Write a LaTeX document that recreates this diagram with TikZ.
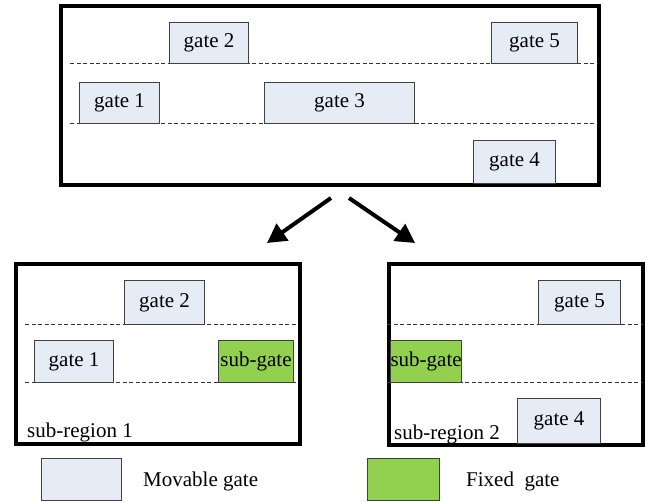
\documentclass[tikz,border=0pt]{standalone}
\usepackage{fontspec}
\setmainfont{Liberation Serif}
\usetikzlibrary{arrows.meta}
\definecolor{movable}{HTML}{E5ECF6}
\definecolor{fixedg}{HTML}{92D050}
\definecolor{edgegray}{HTML}{404040}
\tikzset{
  region/.style={draw=black, line width=4pt, rectangle, anchor=north west, inner sep=0pt},
  gatebox/.style={draw=edgegray, line width=1.1pt, fill=movable, rectangle, anchor=north west,
    inner sep=0pt, font=\fontsize{21}{23}\selectfont},
  fixedbox/.style={gatebox, fill=fixedg},
  lane/.style={draw=black!80, dashed, dash pattern=on 4pt off 2.5pt, line width=0.8pt},
  split/.style={line width=4pt, -{Triangle[length=19pt,width=20pt]}},
  lbl/.style={font=\fontsize{21}{23}\selectfont, inner sep=0pt},
}
\begin{document}
\begin{tikzpicture}[x=1pt,y=-1pt]
\useasboundingbox (0,0) rectangle (652,502);

% ---- full region ----
\node[region, minimum width=538pt, minimum height=179pt] (top) at (59,4) {};
\draw[lane] (70,63) -- (597,63);
\draw[lane] (70,123) -- (597,123);
\node[gatebox, minimum width=79pt, minimum height=41pt] (t2) at (169,22) {gate 2};
\node[gatebox, minimum width=86pt, minimum height=41pt] (t5) at (491,22) {gate 5};
\node[gatebox, minimum width=80pt, minimum height=41pt] (t1) at (79,82) {gate 1};
\node[gatebox, minimum width=150pt, minimum height=41pt] (t3) at (264,82) {gate 3};
\node[gatebox, minimum width=82pt, minimum height=43pt] (t4) at (473,140) {gate 4};

% ---- split arrows ----
\coordinate (la) at (331,198);
\coordinate (lb) at (267,243);
\coordinate (ra) at (349,198);
\coordinate (rb) at (415,243);
\draw[split] (la) -- (lb);
\draw[split] (ra) -- (rb);

% ---- sub-region 1 ----
\node[region, minimum width=284pt, minimum height=180pt] (s1) at (14,262) {};
\draw[lane] (25,324) -- (298,324);
\draw[lane] (25,382) -- (298,382);
\node[gatebox, minimum width=80pt, minimum height=44pt] (a2) at (124,280) {gate 2};
\node[gatebox, minimum width=79pt, minimum height=42pt] (a1) at (34,340) {gate 1};
\node[fixedbox, minimum width=75pt, minimum height=42pt] (ag) at (218,340) {sub-gate};
\node[lbl, anchor=base west] (s1l) at (27,437) {sub-region 1};

% ---- sub-region 2 ----
\node[region, minimum width=254pt, minimum height=181pt] (s2) at (387,262) {};
\draw[lane] (387,324) -- (643,324);
\draw[lane] (387,382) -- (643,382);
\node[gatebox, minimum width=82pt, minimum height=44pt] (b5) at (538,280) {gate 5};
\node[fixedbox, minimum width=70pt, minimum height=42pt] (bg) at (390,340) {sub-gate};
\node[gatebox, minimum width=83pt, minimum height=45pt] (b4) at (517,398) {gate 4};
\node[lbl, anchor=base west] (s2l) at (394,439) {sub-region 2};

% ---- legend ----
\node[gatebox, minimum width=80pt, minimum height=42pt] (km) at (41,458) {};
\node[lbl, anchor=base west] (kmt) at (143,486) {Movable gate};
\node[fixedbox, minimum width=72pt, minimum height=42pt] (kf) at (367,458) {};
\node[lbl, anchor=base west] (kft) at (466,486) {Fixed\ \ gate};
\end{tikzpicture}
\end{document}
